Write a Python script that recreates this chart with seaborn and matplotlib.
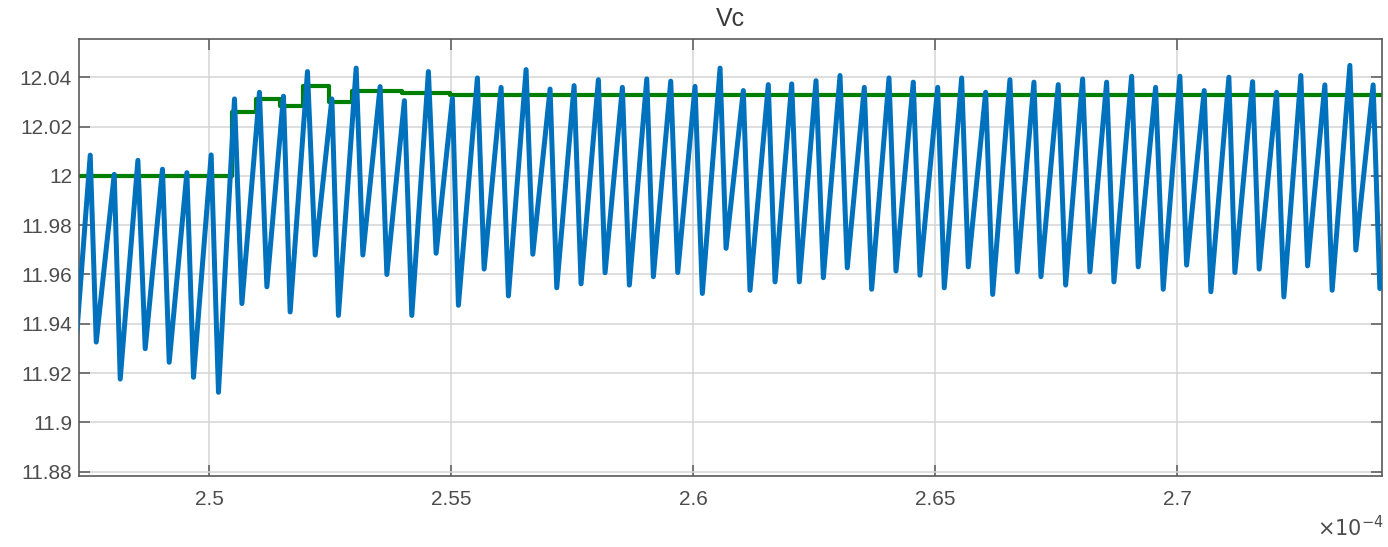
import numpy as np
import pandas as pd
import matplotlib
matplotlib.use("Agg")
import matplotlib.pyplot as plt
import seaborn as sns
from matplotlib.ticker import FuncFormatter

# time axis in units of 1e-4 s
t_start = 2.4726
v_start = 11.935

peak_t = [2.47542, 2.48038, 2.48527, 2.49035, 2.49539, 2.50041, 2.50523, 2.51039,
          2.51535, 2.52031, 2.52535, 2.53037, 2.53532, 2.54034, 2.5453, 2.55026,
          2.55542, 2.56032, 2.56548, 2.57044, 2.5754, 2.58042, 2.58538, 2.59042,
          2.59537, 2.60039, 2.60556, 2.61037, 2.61553, 2.62037, 2.62539, 2.63035,
          2.63537, 2.64047, 2.64549, 2.65053, 2.65548, 2.66044, 2.66546, 2.67042,
          2.67544, 2.68048, 2.68544, 2.6906, 2.69556, 2.70058, 2.7056, 2.7107,
          2.7156, 2.72055, 2.72557, 2.73053, 2.7357, 2.74051]
peak_v = [12.0084, 12.0006, 12.0063, 12.0027, 12.0013, 12.0085, 12.0312, 12.0339,
          12.0323, 12.0423, 12.0312, 12.0437, 12.0362, 12.0305, 12.0423, 12.0314,
          12.0397, 12.0359, 12.0431, 12.0352, 12.0366, 12.039, 12.0359, 12.0393,
          12.0384, 12.0363, 12.0437, 12.0346, 12.037, 12.0373, 12.0386, 12.0407,
          12.0359, 12.0397, 12.038, 12.0359, 12.0397, 12.0339, 12.039, 12.038,
          12.037, 12.0393, 12.038, 12.0404, 12.0359, 12.0404, 12.0346, 12.04,
          12.0382, 12.0339, 12.0407, 12.0369, 12.0448, 12.0369]

trough_t = [2.47666, 2.48162, 2.48678, 2.49174, 2.49676, 2.50192, 2.50676, 2.51192,
            2.51673, 2.5219, 2.52671, 2.53175, 2.53671, 2.54187, 2.54689, 2.5515,
            2.55681, 2.56183, 2.56687, 2.57182, 2.57684, 2.5818, 2.58682, 2.59178,
            2.59682, 2.6019, 2.6068, 2.61175, 2.61692, 2.62194, 2.6269, 2.63185,
            2.63689, 2.64191, 2.64687, 2.65189, 2.65685, 2.66189, 2.66697, 2.67187,
            2.67697, 2.68199, 2.68695, 2.69197, 2.69713, 2.70196, 2.70698, 2.71194,
            2.71696, 2.72206, 2.72696, 2.73204, 2.73693, 2.74189]
trough_v = [11.9326, 11.9176, 11.9299, 11.9244, 11.9183, 11.9122, 11.9482, 11.955,
            11.9448, 11.9679, 11.9434, 11.9679, 11.96, 11.9434, 11.9686, 11.9475,
            11.9622, 11.9513, 11.9682, 11.9546, 11.9562, 11.9607, 11.9557, 11.9591,
            11.9608, 11.9523, 11.9706, 11.9536, 11.957, 11.957, 11.9587, 11.9627,
            11.954, 11.9614, 11.9597, 11.9546, 11.9631, 11.9519, 11.9611, 11.9591,
            11.9557, 11.9611, 11.957, 11.9631, 11.954, 11.9638, 11.953, 11.9608,
            11.9622, 11.9509, 11.9635, 11.9536, 11.9699, 11.9543]

# reference (green) step signal
ref_t = [2.4726, 2.50475, 2.50971, 2.51467, 2.51942, 2.52479, 2.52954, 2.53987, 2.54978, 2.7430]
ref_v = [12.0, 12.026, 12.0312, 12.0283, 12.0365, 12.0298, 12.0345, 12.0335, 12.0327, 12.0327]

# interleave peaks and troughs into one trace
vc_t = [t_start] + [x for pair in zip(peak_t, trough_t) for x in pair]
vc_v = [v_start] + [x for pair in zip(peak_v, trough_v) for x in pair]
vc = pd.DataFrame({"t": vc_t, "v": vc_v})
ref = pd.DataFrame({"t": ref_t, "v": ref_v})

sns.set_theme(style="white")
plt.rcParams["font.family"] = ["Liberation Sans", "DejaVu Sans"]

fig = plt.figure(figsize=(13.88, 5.47), dpi=100)
ax = fig.add_axes([79 / 1388, 1 - 475.7 / 547, (1382.3 - 79) / 1388, (475.7 - 39) / 547])

sns.lineplot(data=ref, x="t", y="v", ax=ax, color="#007f00", linewidth=3.0,
             drawstyle="steps-post", estimator=None, sort=False, zorder=2)
sns.lineplot(data=vc, x="t", y="v", ax=ax, color="#0072bd", linewidth=3.6,
             estimator=None, sort=False, zorder=3)

ax.set_xlim(2.4731, 2.7424)
ax.set_ylim(11.8784, 12.0555)
ax.set_xticks([2.5, 2.55, 2.6, 2.65, 2.7])
ax.set_yticks([11.88, 11.9, 11.92, 11.94, 11.96, 11.98, 12.0, 12.02, 12.04])
fmt = FuncFormatter(lambda v, p: "%g" % round(v, 4))
ax.xaxis.set_major_formatter(fmt)
ax.yaxis.set_major_formatter(fmt)
ax.set_xlabel("")
ax.set_ylabel("")

ax.grid(True, color="#d4d4d4", linewidth=1.1)
ax.set_axisbelow(True)
for s in ax.spines.values():
    s.set_color("#5a5a5a")
    s.set_linewidth(1.2)
ax.tick_params(direction="in", length=8, width=1.1, color="#5a5a5a",
               labelsize=15, labelcolor="#4d4d4d", top=True, right=True,
               bottom=True, left=True)
ax.tick_params(axis="x", pad=10)
ax.tick_params(axis="y", pad=5)

ax.set_title("Vc", fontsize=18, color="#3a3a3a", pad=9)
fig.text(1384 / 1388, 1 - 528 / 547, r"$\times10^{-4}$", ha="right", va="center",
         fontsize=15, color="#4d4d4d")

fig.savefig("out.png", dpi=100)
